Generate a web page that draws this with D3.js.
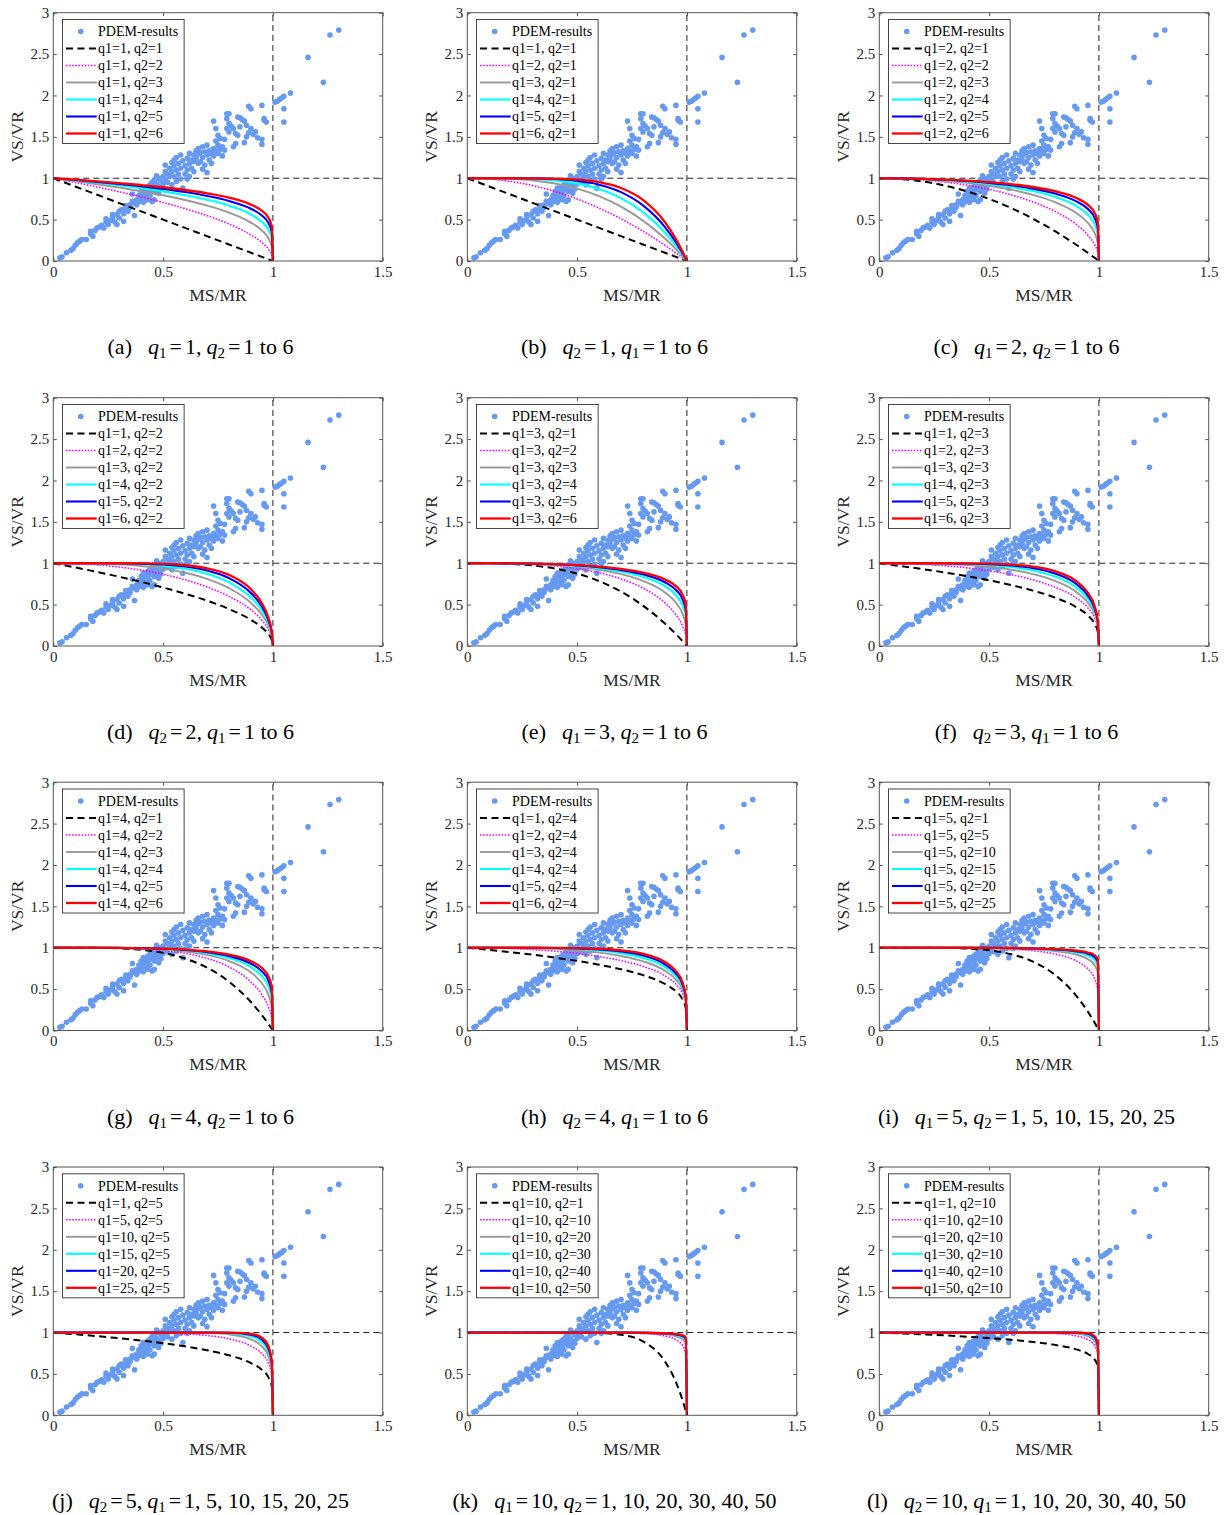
<!DOCTYPE html>
<html><head><meta charset="utf-8">
<script src="https://cdn.jsdelivr.net/npm/d3@7"></script>
<style>body{margin:0;background:#fff}svg{display:block}</style>
</head><body><svg id="chart" width="1228" height="1515"></svg>
<script>
// ---------------- DATA ----------------
// PDEM-results scatter (same in every panel)
const msmr = [0.03,0.04,0.06,0.08,0.09,0.10,0.11,0.12,0.13,0.15,0.17,0.17,0.18,0.19,0.20,0.21,0.22,0.23,0.24,0.24,0.25,0.26,0.27,0.27,0.28,0.29,0.29,0.30,0.30,0.31,0.32,0.32,
0.33,0.33,0.34,0.35,0.35,0.36,0.36,0.37,0.37,0.38,0.38,0.39,0.39,0.40,0.40,0.41,0.41,0.41,0.42,0.42,0.43,0.43,0.43,0.44,0.44,0.44,0.45,0.45,0.45,0.46,0.46,0.46,0.46,0.47,0.47,0.47,0.48,0.48,0.48,0.49,0.49,0.50,0.50,
0.51,0.51,0.51,0.52,0.52,0.53,0.53,0.54,0.54,0.54,0.55,0.55,0.55,0.56,0.56,0.56,0.57,0.57,0.58,0.58,0.58,0.59,0.59,0.60,0.60,0.61,0.61,0.61,0.62,0.62,0.62,0.63,0.63,0.64,0.64,0.64,0.65,0.65,
0.66,0.66,0.66,0.67,0.67,0.68,0.68,0.68,0.69,0.69,0.70,0.70,0.70,0.71,0.71,0.72,0.72,0.73,0.73,0.73,0.74,0.74,0.74,0.75,0.75,0.75,0.76,0.76,0.77,0.77,0.78,0.78,
0.79,0.80,0.79,0.80,0.79,0.80,0.81,0.82,0.83,0.83,0.82,0.84,0.85,0.85,0.84,0.86,0.87,0.87,0.88,0.88,0.89,0.90,0.89,0.90,0.91,0.92,0.93,0.95,0.95,0.95,0.96,0.96,0.97,
1.01,1.02,1.03,1.04,1.05,1.08,1.05,1.05,1.16,1.23,1.26,1.30];
const vsvr = [0.04,0.05,0.10,0.13,0.15,0.19,0.22,0.24,0.26,0.26,0.33,0.36,0.30,0.37,0.40,0.41,0.43,0.40,0.47,0.51,0.44,0.49,0.52,0.56,0.47,0.44,0.56,0.60,0.52,0.62,0.57,0.48,
0.63,0.67,0.60,0.68,0.65,0.72,0.81,0.55,0.70,0.74,0.68,0.79,0.72,0.84,0.76,0.88,0.80,0.71,0.85,0.77,0.90,0.83,0.74,0.92,0.86,0.79,0.95,0.88,0.72,0.98,0.90,0.84,0.74,1.03,0.93,0.86,1.00,0.90,0.82,0.97,0.87,1.02,0.93,
1.16,1.08,0.98,1.05,0.95,1.12,1.02,1.19,1.08,0.92,1.15,1.22,1.02,1.10,0.96,1.25,1.18,1.05,1.28,1.12,0.99,1.21,0.88,1.15,1.05,1.24,1.10,0.99,1.30,1.18,1.02,1.22,1.12,1.28,1.20,1.08,1.33,1.24,
1.36,1.18,1.29,1.31,1.20,1.38,1.25,1.11,1.32,1.16,1.40,1.28,1.07,1.22,1.33,1.30,1.18,1.69,1.36,1.27,1.60,1.45,1.33,1.52,1.40,1.30,1.48,1.35,1.38,1.27,1.34,1.47,
1.78,1.78,1.72,1.66,1.60,1.56,1.63,1.60,1.54,1.42,1.38,1.74,1.73,1.62,1.52,1.71,1.69,1.43,1.64,1.50,1.87,1.84,1.55,1.60,1.53,1.56,1.49,1.88,1.47,1.41,1.72,1.70,1.68,
1.92,1.93,1.95,1.97,1.99,2.03,1.84,1.68,2.46,2.16,2.73,2.79];

// abscissae at which the interaction curves were read
const curveX = [0,0.1,0.2,0.3,0.4,0.5,0.6,0.7,0.8,0.9,0.95,0.98,0.995,1];
// VS/VR (name cA_B : q1=A, q2=B)
const c1_1  = [1,.9,.8,.7,.6,.5,.4,.3,.2,.1,.05,.02,.005,0];
const c1_2  = [1,.949,.894,.837,.775,.707,.632,.548,.447,.316,.224,.141,.071,0];
const c1_3  = [1,.965,.928,.888,.843,.794,.737,.669,.585,.464,.368,.271,.171,0];
const c1_4  = [1,.974,.946,.915,.880,.841,.795,.740,.669,.562,.473,.376,.266,0];
const c1_5  = [1,.979,.956,.931,.903,.871,.833,.786,.725,.631,.549,.457,.347,0];
const c1_6  = [1,.983,.963,.942,.918,.891,.858,.818,.765,.681,.607,.521,.414,0];
const c1_10 = [1,.990,.978,.965,.950,.933,.912,.887,.851,.794,.741,.676,.589,0];
const c2_1  = [1,.99,.96,.91,.84,.75,.64,.51,.36,.19,.098,.040,.010,0];
const c2_2  = [1,.995,.980,.954,.917,.866,.800,.714,.600,.436,.312,.199,.100,0];
const c2_3  = [1,.997,.986,.969,.944,.909,.862,.799,.711,.575,.460,.341,.215,0];
const c2_4  = [1,.997,.990,.977,.957,.931,.894,.845,.775,.660,.559,.446,.316,0];
const c2_5  = [1,.998,.992,.981,.966,.944,.915,.874,.815,.717,.628,.524,.398,0];
const c2_6  = [1,.998,.993,.984,.971,.953,.928,.894,.843,.758,.678,.584,.464,0];
const c3_1  = [1,.999,.992,.973,.936,.875,.784,.657,.488,.271,.143,.059,.015,0];
const c3_2  = [1,1,.996,.986,.967,.935,.885,.811,.699,.521,.378,.243,.122,0];
const c3_3  = [1,1,.997,.991,.978,.956,.922,.869,.787,.647,.522,.389,.246,0];
const c3_4  = [1,1,.998,.993,.984,.967,.941,.900,.836,.722,.615,.492,.350,0];
const c3_5  = [1,1,.998,.995,.987,.974,.952,.919,.866,.770,.677,.567,.431,0];
const c3_6  = [1,1,.999,.995,.989,.978,.960,.932,.887,.804,.723,.624,.496,0];
const c4_1  = [1,1,.998,.992,.974,.938,.870,.760,.590,.344,.185,.078,.020,0];
const c4_2  = [1,1,.999,.996,.987,.968,.933,.872,.768,.586,.431,.279,.141,0];
const c4_3  = [1,1,.999,.997,.991,.979,.955,.913,.839,.701,.570,.427,.271,0];
const c4_4  = [1,1,1,.998,.994,.984,.966,.934,.877,.766,.656,.528,.375,0];
const c4_5  = [1,1,1,.998,.995,.987,.973,.947,.900,.808,.714,.600,.457,0];
const c4_6  = [1,1,1,.999,.996,.989,.977,.955,.916,.837,.755,.653,.520,0];
const c5_1  = [1,1,1,.998,.990,.969,.922,.832,.672,.410,.226,.096,.025,0];
const c5_2  = [1,1,1,.999,.995,.984,.960,.912,.820,.640,.476,.310,.157,0];
const c5_3  = [1,1,1,.999,.997,.989,.973,.941,.876,.743,.609,.458,.291,0];
const c5_4  = [1,1,1,.999,.997,.992,.980,.955,.906,.800,.690,.557,.397,0];
const c5_5  = [1,1,1,1,.998,.994,.984,.964,.924,.836,.743,.626,.477,0];
const c5_6  = [1,1,1,1,.998,.995,.987,.970,.936,.862,.781,.677,.540,0];
const c5_10 = [1,1,1,1,.999,.997,.992,.982,.961,.915,.862,.791,.691,0];
const c5_15 = [1,1,1,1,.999,.998,.995,.988,.974,.942,.906,.855,.781,0];
const c5_20 = [1,1,1,1,.999,.998,.996,.991,.980,.956,.928,.889,.831,0];
const c5_25 = [1,1,1,1,1,.999,.997,.993,.984,.965,.942,.911,.862,0];
const c6_1  = [1,1,1,.999,.996,.984,.953,.882,.738,.469,.265,.114,.030,0];
const c6_2  = [1,1,1,1,.998,.992,.976,.939,.859,.685,.515,.338,.172,0];
const c6_3  = [1,1,1,1,.999,.995,.984,.959,.904,.777,.642,.485,.309,0];
const c6_4  = [1,1,1,1,.999,.996,.988,.969,.927,.827,.717,.581,.415,0];
const c6_5  = [1,1,1,1,.999,.997,.990,.975,.941,.859,.767,.648,.495,0];
const c6_6  = [1,1,1,1,.999,.997,.992,.979,.951,.881,.801,.696,.556,0];
const c10_1  = [1,1,1,1,1,.999,.994,.972,.893,.651,.401,.183,.049,0];
const c10_5  = [1,1,1,1,1,1,.999,.994,.978,.918,.833,.712,.547,0];
const c10_10 = [1,1,1,1,1,1,.999,.997,.989,.958,.913,.844,.739,0];
const c10_20 = [1,1,1,1,1,1,1,.999,.994,.979,.955,.919,.860,0];
const c10_30 = [1,1,1,1,1,1,1,.999,.996,.986,.970,.945,.904,0];
const c10_40 = [1,1,1,1,1,1,1,1,.997,.989,.977,.958,.927,0];
const c10_50 = [1,1,1,1,1,1,1,1,.998,.991,.982,.967,.941,0];
const c15_5  = [1,1,1,1,1,1,1,.999,.993,.955,.883,.765,.592,0];
const c20_5  = [1,1,1,1,1,1,1,1,.998,.974,.915,.802,.625,0];
const c25_5  = [1,1,1,1,1,1,1,1,.999,.985,.937,.831,.652,0];
const c20_10 = [1,1,1,1,1,1,1,1,.999,.987,.957,.896,.791,0];
const c30_10 = [1,1,1,1,1,1,1,1,1,.996,.976,.924,.821,0];
const c40_10 = [1,1,1,1,1,1,1,1,1,.999,.986,.943,.843,0];
const c50_10 = [1,1,1,1,1,1,1,1,1,.999,.992,.956,.860,0];

const panelCurves = [
  [c1_1,c1_2,c1_3,c1_4,c1_5,c1_6],
  [c1_1,c2_1,c3_1,c4_1,c5_1,c6_1],
  [c2_1,c2_2,c2_3,c2_4,c2_5,c2_6],
  [c1_2,c2_2,c3_2,c4_2,c5_2,c6_2],
  [c3_1,c3_2,c3_3,c3_4,c3_5,c3_6],
  [c1_3,c2_3,c3_3,c4_3,c5_3,c6_3],
  [c4_1,c4_2,c4_3,c4_4,c4_5,c4_6],
  [c1_4,c2_4,c3_4,c4_4,c5_4,c6_4],
  [c5_1,c5_5,c5_10,c5_15,c5_20,c5_25],
  [c1_5,c5_5,c10_5,c15_5,c20_5,c25_5],
  [c10_1,c10_10,c10_20,c10_30,c10_40,c10_50],
  [c1_10,c10_10,c20_10,c30_10,c40_10,c50_10]
];
const panelLegends = [
  ["q1=1, q2=1","q1=1, q2=2","q1=1, q2=3","q1=1, q2=4","q1=1, q2=5","q1=1, q2=6"],
  ["q1=1, q2=1","q1=2, q2=1","q1=3, q2=1","q1=4, q2=1","q1=5, q2=1","q1=6, q2=1"],
  ["q1=2, q2=1","q1=2, q2=2","q1=2, q2=3","q1=2, q2=4","q1=2, q2=5","q1=2, q2=6"],
  ["q1=1, q2=2","q1=2, q2=2","q1=3, q2=2","q1=4, q2=2","q1=5, q2=2","q1=6, q2=2"],
  ["q1=3, q2=1","q1=3, q2=2","q1=3, q2=3","q1=3, q2=4","q1=3, q2=5","q1=3, q2=6"],
  ["q1=1, q2=3","q1=2, q2=3","q1=3, q2=3","q1=4, q2=3","q1=5, q2=3","q1=6, q2=3"],
  ["q1=4, q2=1","q1=4, q2=2","q1=4, q2=3","q1=4, q2=4","q1=4, q2=5","q1=4, q2=6"],
  ["q1=1, q2=4","q1=2, q2=4","q1=3, q2=4","q1=4, q2=4","q1=5, q2=4","q1=6, q2=4"],
  ["q1=5, q2=1","q1=5, q2=5","q1=5, q2=10","q1=5, q2=15","q1=5, q2=20","q1=5, q2=25"],
  ["q1=1, q2=5","q1=5, q2=5","q1=10, q2=5","q1=15, q2=5","q1=20, q2=5","q1=25, q2=5"],
  ["q1=10, q2=1","q1=10, q2=10","q1=10, q2=20","q1=10, q2=30","q1=10, q2=40","q1=10, q2=50"],
  ["q1=1, q2=10","q1=10, q2=10","q1=20, q2=10","q1=30, q2=10","q1=40, q2=10","q1=50, q2=10"]
];
const scatterLabel = "PDEM-results";
const captionLetters = ["a","b","c","d","e","f","g","h","i","j","k","l"];
const captionFixedVar = ["1","2","1","2","1","2","1","2","1","2","1","2"];
const captionFixedVal = ["1","1","2","2","3","3","4","4","5","5","10","10"];
const captionRange = ["1 to 6","1 to 6","1 to 6","1 to 6","1 to 6","1 to 6","1 to 6","1 to 6",
  "1, 5, 10, 15, 20, 25","1, 5, 10, 15, 20, 25","1, 10, 20, 30, 40, 50","1, 10, 20, 30, 40, 50"];
const xTicks = [0,0.5,1,1.5];
const yTicks = [0,0.5,1,1.5,2,2.5,3];
const xLabel = "MS/MR", yLabel = "VS/VR";

// ---------------- STYLE / LAYOUT ----------------
const lineStyles = [
  {stroke:"#000000", width:2.0, dash:"7,4.5"},
  {stroke:"#ff00ff", width:1.6, dash:"1.6,1.5"},
  {stroke:"#999999", width:1.9, dash:null},
  {stroke:"#00ffff", width:2.1, dash:null},
  {stroke:"#0000ff", width:2.1, dash:null},
  {stroke:"#ff0000", width:2.3, dash:null}
];
const pointColor = "rgb(102,153,240)";
const colLeft = [53.3, 467.3, 879.3];
const rowTop = [12.7, 397.7, 782.2, 1167];
const W = 329.4, H = 248.3;
const serif = "'Liberation Serif','Times New Roman',serif";
const textCol = "#262626";

const svg = d3.select("#chart");
svg.append("rect").attr("width",1228).attr("height",1515).attr("fill","#fff");

const x = d3.scaleLinear().domain([0,1.5]).range([0,W]);
const y = d3.scaleLinear().domain([0,3]).range([H,0]);
const lineGen = d3.line().x((d,i)=>x(curveX[i])).y(d=>y(d)).curve(d3.curveMonotoneX);

panelCurves.forEach((curves, p) => {
  const r = Math.floor(p/3), c = p%3;
  const g = svg.append("g").attr("transform",`translate(${colLeft[c]},${rowTop[r]})`);
  const clipId = "clip"+p;
  g.append("clipPath").attr("id",clipId).append("rect").attr("x",0).attr("y",0).attr("width",W).attr("height",H);
  const plot = g.append("g").attr("clip-path",`url(#${clipId})`);

  // reference lines
  plot.append("line").attr("x1",x(0)).attr("x2",x(1.5)).attr("y1",y(1)).attr("y2",y(1))
    .attr("stroke","#222").attr("stroke-width",1).attr("stroke-dasharray","6,4");
  plot.append("line").attr("x1",x(1)).attr("x2",x(1)).attr("y1",y(0)).attr("y2",y(3))
    .attr("stroke","#222").attr("stroke-width",1).attr("stroke-dasharray","6,4");

  // scatter
  plot.selectAll("circle.pt").data(d3.range(msmr.length)).join("circle").attr("class","pt")
    .attr("cx",i=>x(msmr[i])).attr("cy",i=>y(vsvr[i])).attr("r",2.8).attr("fill",pointColor);

  // curves
  curves.forEach((vals, k) => {
    const s = lineStyles[k];
    plot.append("path").attr("d",lineGen(vals)).attr("fill","none")
      .attr("stroke",s.stroke).attr("stroke-width",s.width)
      .attr("stroke-dasharray",s.dash).attr("stroke-linejoin","round");
  });

  // axes
  const styleAxis = sel => {
    sel.select(".domain").remove();
    sel.selectAll(".tick line").attr("stroke","#262626").attr("stroke-width",0.8);
    sel.selectAll(".tick text").attr("fill",textCol).attr("font-family",serif).attr("font-size",15);
  };
  g.append("g").attr("transform",`translate(0,${H})`)
    .call(d3.axisBottom(x).tickValues(xTicks).tickSize(-3.5).tickSizeOuter(0).tickPadding(5).tickFormat(d=>String(d)))
    .call(styleAxis);
  g.append("g")
    .call(d3.axisLeft(y).tickValues(yTicks).tickSize(-3.5).tickSizeOuter(0).tickPadding(4).tickFormat(d=>String(d)))
    .call(styleAxis);
  g.append("g")
    .call(d3.axisTop(x).tickValues(xTicks).tickSize(-3.5).tickSizeOuter(0).tickFormat(""))
    .call(styleAxis);
  g.append("g").attr("transform",`translate(${W},0)`)
    .call(d3.axisRight(y).tickValues(yTicks).tickSize(-3.5).tickSizeOuter(0).tickFormat(""))
    .call(styleAxis);
  g.append("rect").attr("width",W).attr("height",H).attr("fill","none")
    .attr("stroke","#555").attr("stroke-width",1);

  // axis labels
  g.append("text").attr("x",W/2).attr("y",H+40).attr("text-anchor","middle")
    .attr("font-family",serif).attr("font-size",17.5).attr("fill",textCol).text(xLabel);
  g.append("text").attr("transform",`translate(-30,${H/2}) rotate(-90)`).attr("text-anchor","middle")
    .attr("font-family",serif).attr("font-size",17.5).attr("fill",textCol).text(yLabel);

  // legend
  const lg = g.append("g").attr("transform","translate(9.2,6.8)");
  const box = lg.append("rect").attr("fill","#fff").attr("stroke","#333").attr("stroke-width",0.9);
  const labels = [scatterLabel].concat(panelLegends[p]);
  let maxW = 0;
  labels.forEach((t, k) => {
    const cy = 12 + k*17;
    if (k === 0) {
      lg.append("circle").attr("cx",18.2).attr("cy",cy).attr("r",2.8).attr("fill",pointColor);
    } else {
      const s = lineStyles[k-1];
      lg.append("line").attr("x1",3.5).attr("x2",34.2).attr("y1",cy).attr("y2",cy)
        .attr("stroke",s.stroke).attr("stroke-width",s.width).attr("stroke-dasharray",s.dash);
    }
    const tx = lg.append("text").attr("x",35.5).attr("y",cy).attr("dy","0.35em")
      .attr("font-family",serif).attr("font-size",14).attr("fill","#000").text(t);
    maxW = Math.max(maxW, tx.node().getComputedTextLength());
  });
  box.attr("x",0).attr("y",0).attr("width",35.5+maxW+6).attr("height",124);

  // caption
  const cap = svg.append("text").attr("x",colLeft[c]+W/2-17.5).attr("y",rowTop[r]+H+93)
    .attr("text-anchor","middle").attr("font-family",serif).attr("font-size",22).attr("fill","#000");
  const otherVar = captionFixedVar[p]==="1" ? "2" : "1";
  cap.append("tspan").text("(" + captionLetters[p] + ")");
  cap.append("tspan").attr("dx",16).attr("font-style","italic").text("q");
  cap.append("tspan").attr("font-size",15).attr("dy",4).text(captionFixedVar[p]);
  cap.append("tspan").attr("dy",-4).attr("dx",3).text("=");
  cap.append("tspan").attr("dx",3).text(captionFixedVal[p] + ",");
  cap.append("tspan").attr("dx",5).attr("font-style","italic").text("q");
  cap.append("tspan").attr("font-size",15).attr("dy",4).text(otherVar);
  cap.append("tspan").attr("dy",-4).attr("dx",3).text("=");
  cap.append("tspan").attr("dx",3).text(captionRange[p]);
});
</script>
</body></html>
